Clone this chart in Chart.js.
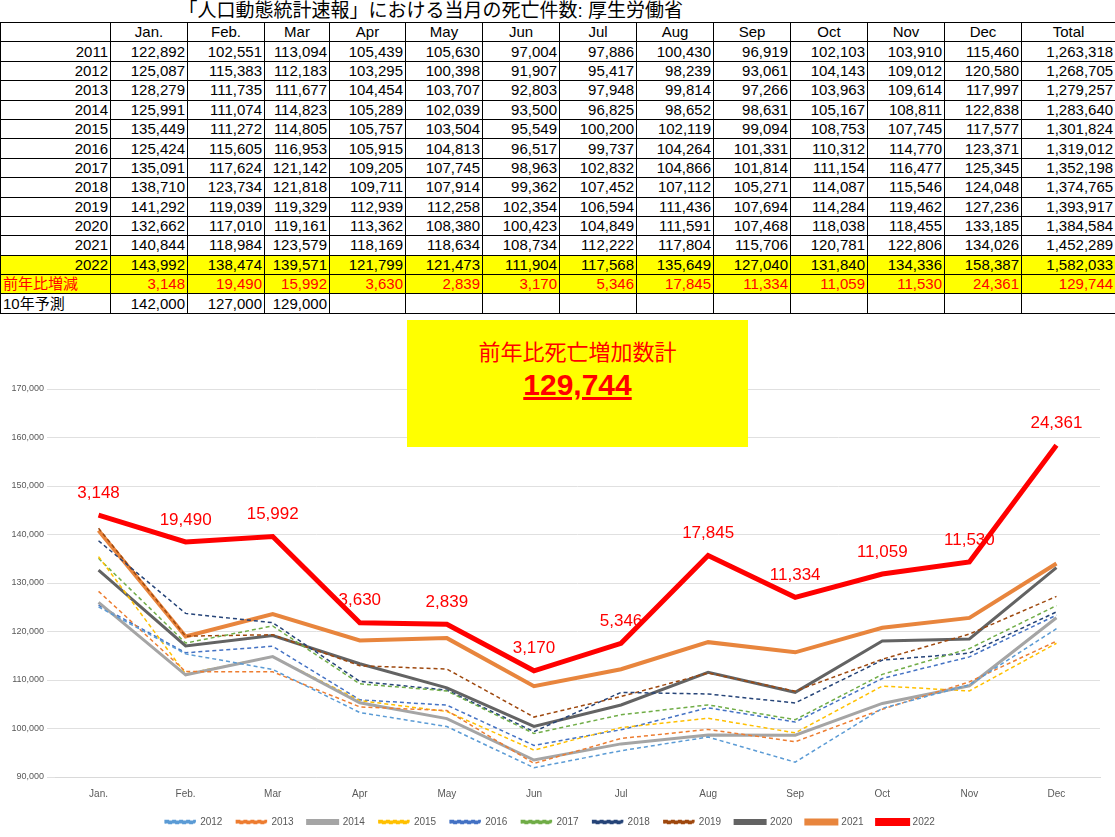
<!DOCTYPE html>
<html><head><meta charset="utf-8">
<script src="https://cdn.jsdelivr.net/npm/chart.js@4"></script>
<style>
body{margin:0;width:1115px;height:837px;background:#fff;font-family:"Liberation Sans",Arial,"Noto Sans CJK JP",sans-serif;overflow:hidden;position:relative}
table{border-collapse:collapse;position:absolute;left:0;top:0;width:1115px;table-layout:fixed;font-size:15px}
td{border:1px solid #000;height:18.4px;padding:0 2px;text-align:right;line-height:18px;white-space:nowrap;overflow:hidden}
tr.title td{border:none;text-align:left;font-size:19px;height:22px;padding-left:178px}
tr.hd td{text-align:center}
tr.y22 td{background:#ffff00}
tr.diff td{background:#ffff00;color:#ff0000}
tr.fc td:first-child{text-align:left}
#box{position:absolute;left:407px;top:320px;width:341px;height:127px;background:#ffff00;text-align:center;color:#ff0000;font-family:"Noto Sans CJK JP",sans-serif}
#box .a{font-size:22px;margin-top:14px}
#box .b{font-family:"Liberation Sans",Arial;font-weight:bold;font-size:30px;text-decoration:underline;margin-top:2px}
#wrap{position:absolute;left:0;top:312px;width:1115px;height:525px}
</style></head><body>
<table id="tbl"></table>
<div id="wrap"><canvas id="c"></canvas></div>
<div id="box"><div class="a">前年比死亡増加数計</div><div class="b">129,744</div></div>
<script>
const months = ['Jan.','Feb.','Mar','Apr','May','Jun','Jul','Aug','Sep','Oct','Nov','Dec'];
const years = [2011,2012,2013,2014,2015,2016,2017,2018,2019,2020,2021,2022];
const deaths = [
 [122892,102551,113094,105439,105630,97004,97886,100430,96919,102103,103910,115460],
 [125087,115383,112183,103295,100398,91907,95417,98239,93061,104143,109012,120580],
 [128279,111735,111677,104454,103707,92803,97948,99814,97266,103963,109614,117997],
 [125991,111074,114823,105289,102039,93500,96825,98652,98631,105167,108811,122838],
 [135449,111272,114805,105757,103504,95549,100200,102119,99094,108753,107745,117577],
 [125424,115605,116953,105915,104813,96517,99737,104264,101331,110312,114770,123371],
 [135091,117624,121142,109205,107745,98963,102832,104866,101814,111154,116477,125345],
 [138710,123734,121818,109711,107914,99362,107452,107112,105271,114087,115546,124048],
 [141292,119039,119329,112939,112258,102354,106594,111436,107694,114284,119462,127236],
 [132662,117010,119161,113362,108380,100423,104849,111591,107468,118038,118455,133185],
 [140844,118984,123579,118169,118634,108734,112222,117804,115706,120781,122806,134026],
 [143992,138474,139571,121799,121473,111904,117568,135649,127040,131840,134336,158387]
];
const totals = [1263318,1268705,1279257,1283640,1301824,1319012,1352198,1374765,1393917,1384584,1452289,1582033];
const diff2022 = [3148,19490,15992,3630,2839,3170,5346,17845,11334,11059,11530,24361];
const diffTotal = 129744;
const forecast = [142000,127000,129000];
const yTicks = [90000,100000,110000,120000,130000,140000,150000,160000,170000];

const colors = ['#5b9bd5','#ed7d31','#a5a5a5','#ffc000','#4472c4','#70ad47','#264478','#9e480e','#636363','#e8853d','#ff0000'];
const dashed = [true,true,false,true,true,true,true,true,false,false,false];
const widths = [1.5,1.5,3,1.5,1.5,1.5,1.5,1.5,3,4,5];

// table
const f = n => n.toLocaleString('en-US');
const widthsCol = [110,77,77,65,76,77,77,77,77,77,77,77,77,94];
let h = '<colgroup>' + widthsCol.map(w => `<col style="width:${w}px">`).join('') + '</colgroup>';
h += '<tr class="title"><td colspan="14">「人口動態統計速報」における当月の死亡件数: 厚生労働省</td></tr>';
h += '<tr class="hd"><td></td>' + months.map(m => `<td>${m}</td>`).join('') + '<td>Total</td></tr>';
years.forEach((y, i) => {
  h += `<tr class="${y === 2022 ? 'y22' : ''}"><td>${y}</td>` + deaths[i].map(v => `<td>${f(v)}</td>`).join('') + `<td>${f(totals[i])}</td></tr>`;
});
h += '<tr class="diff"><td style="text-align:left">前年比増減</td>' + diff2022.map(v => `<td>${f(v)}</td>`).join('') + `<td>${f(diffTotal)}</td></tr>`;
h += '<tr class="fc"><td>10年予測</td>' + months.map((m, i) => `<td>${forecast[i] ? f(forecast[i]) : ''}</td>`).join('') + '<td></td></tr>';
document.getElementById('tbl').innerHTML = h;

const labelPlugin = {
  id: 'diffLabels',
  afterDatasetsDraw(chart) {
    const meta = chart.getDatasetMeta(chart.data.datasets.length - 1);
    const ctx = chart.ctx;
    ctx.save();
    ctx.fillStyle = '#ff0000';
    ctx.font = '17px "Liberation Sans", Arial';
    ctx.textAlign = 'center';
    meta.data.forEach((p, i) => {
      ctx.fillText(f(diff2022[i]), p.x, p.y - 22);
    });
    ctx.restore();
  }
};

new Chart(document.getElementById('c'), {
  type: 'line',
  data: {
    labels: months,
    datasets: years.slice(1).map((y, i) => ({
      label: String(y),
      data: deaths[i + 1],
      borderColor: colors[i],
      backgroundColor: colors[i],
      borderWidth: widths[i],
      borderDash: dashed[i] ? [4, 3] : [],
      pointRadius: 0,
      tension: 0
    }))
  },
  options: {
    responsive: true,
    maintainAspectRatio: false,
    animation: false,
    layout: { padding: { top: 77, right: 15, left: 0, bottom: 0 } },
    scales: {
      x: {
        offset: true,
        grid: { display: false },
        border: { color: '#d9d9d9' },
        ticks: { color: '#595959', font: { size: 10 } }
      },
      y: {
        min: 90000, max: 170000,
        afterBuildTicks(s) { s.ticks = yTicks.map(v => ({ value: v })); },
        grid: { color: '#e0e0e0' },
        border: { display: false },
        ticks: { color: '#595959', font: { size: 9 }, callback: v => f(v) },
        afterFit(s) { s.width = 55; }
      }
    },
    plugins: {
      legend: {
        position: 'bottom',
        labels: { boxWidth: 30, boxHeight: 3, color: '#595959', font: { size: 10 }, padding: 14 }
      },
      tooltip: { enabled: false }
    }
  },
  plugins: [labelPlugin]
});
</script>
</body></html>
